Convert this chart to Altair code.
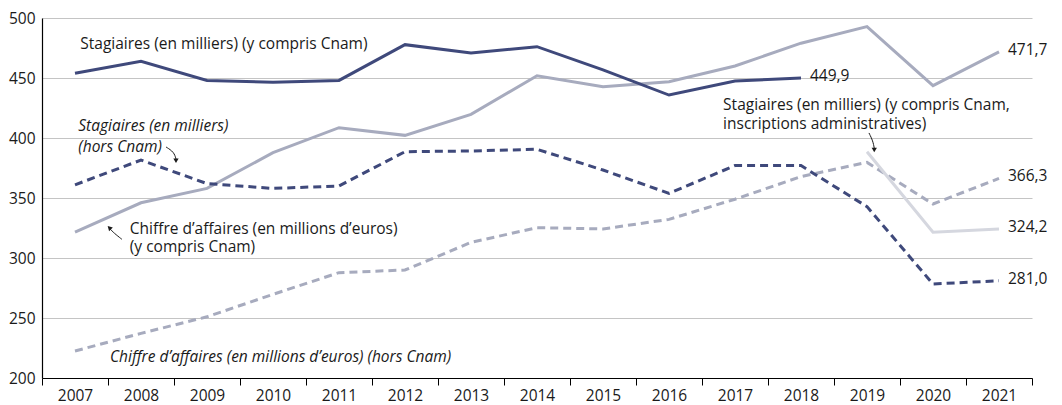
import altair as alt
import pandas as pd

FONT = "Open Sans"
FS = 15.5
NAVY = "#3f497b"
GRAY = "#a7abbe"
LIGHT = "#d5d7df"
INK = "#1a1a1a"

years = list(range(2007, 2022))

# Stagiaires (en milliers) (y compris Cnam) 2007-2018
stag_cnam_years = list(range(2007, 2019))
stag_cnam = [454.0, 464.0, 448.0, 446.5, 448.0, 477.8, 470.8, 476.1, 456.7, 435.8, 447.5, 449.9]
# Chiffre d'affaires (y compris Cnam) 2007-2021
ca_cnam = [321.5, 346.0, 358.0, 387.8, 408.6, 402.2, 419.7, 451.9, 442.8, 446.9, 460.0, 479.0, 492.8, 443.6, 471.7]
# Stagiaires (hors Cnam) 2007-2021
stag_hors = [361.0, 381.6, 362.0, 358.0, 360.0, 388.6, 389.2, 390.6, 373.3, 353.9, 377.0, 377.0, 342.8, 278.3, 281.0]
# Chiffre d'affaires (hors Cnam) 2007-2021
ca_hors = [222.5, 237.2, 251.0, 269.7, 287.8, 290.0, 313.0, 325.3, 324.2, 332.2, 349.0, 367.8, 379.7, 345.0, 366.3]
# Stagiaires (y compris Cnam, inscriptions administratives) 2019-2021
stag_admin_years = [2019, 2020, 2021]
stag_admin = [388.6, 321.4, 324.2]

def frame(name, yrs, vals):
    return pd.DataFrame({"series": name, "year": yrs, "value": vals})

df = pd.concat([
    frame("stag_cnam", stag_cnam_years, stag_cnam),
    frame("ca_cnam", years, ca_cnam),
    frame("stag_hors", years, stag_hors),
    frame("ca_hors", years, ca_hors),
    frame("stag_admin", stag_admin_years, stag_admin),
], ignore_index=True)

xq = alt.X("year:Q", scale=alt.Scale(domain=[2006.5, 2021.5], nice=False, zero=False), axis=None)
yq = alt.Y(
    "value:Q",
    scale=alt.Scale(domain=[200, 500], nice=False, zero=False),
    axis=alt.Axis(
        values=[200, 250, 300, 350, 400, 450, 500], grid=True, gridColor="#c4c4c4", gridWidth=1,
        domainColor="#000", domainWidth=1.2, ticks=False, labelPadding=7, labelFontSize=FS,
        labelFont=FONT, labelColor=INK, title=None,
    ),
)

def line(name, color, dash=None):
    kw = dict(color=color, strokeWidth=3)
    if dash:
        kw["strokeDash"] = dash
    return alt.Chart(df).transform_filter(alt.datum.series == name).mark_line(**kw).encode(x=xq, y=yq)

lines = [
    line("ca_hors", GRAY, [8, 5]),
    line("ca_cnam", GRAY),
    line("stag_admin", LIGHT),
    line("stag_hors", NAVY, [8, 5]),
    line("stag_cnam", NAVY),
]

# Annotations (multi-line texts use "\n"; y is the first line)
ann_normal = pd.DataFrame({
    "text": ["Stagiaires (en milliers) (y compris Cnam)",
             "Chiffre d’affaires (en millions d’euros)\n(y compris Cnam)",
             "Stagiaires (en milliers) (y compris Cnam,\ninscriptions administratives)"],
    "year": [2007.08, 2007.83, 2016.82],
    "value": [478.3, 324.2, 427.1],
})
ann_italic = pd.DataFrame({
    "text": ["Stagiaires (en milliers)\n(hors Cnam)",
             "Chiffre d’affaires (en millions d’euros) (hors Cnam)"],
    "year": [2007.05, 2007.53],
    "value": [409.6, 217.1],
})
end_labels = pd.DataFrame({
    "text": ["449,9", "471,7", "366,3", "324,2", "281,0"],
    "year": [2018, 2021, 2021, 2021, 2021],
    "value": [449.9, 471.7, 366.3, 324.2, 281.0],
})

txt_normal = alt.Chart(ann_normal).mark_text(
    align="left", baseline="middle", font=FONT, fontSize=FS, color=INK, lineBreak="\n", lineHeight=18.5
).encode(x=xq, y=yq, text="text:N")
txt_italic = alt.Chart(ann_italic).mark_text(
    align="left", baseline="middle", font=FONT, fontSize=FS, fontStyle="italic", color=INK,
    lineBreak="\n", lineHeight=20.5
).encode(x=xq, y=yq, text="text:N")
txt_end = alt.Chart(end_labels).mark_text(
    align="left", baseline="middle", font=FONT, fontSize=FS, color=INK, dx=9, dy=-2
).encode(x=xq, y=yq, text="text:N")

# Arrows (curves + heads)
arrow_pts = pd.DataFrame({
    "arrow": ["a1", "a1", "a1", "a2", "a2", "a2", "a3", "a3", "a3"],
    "order": [0, 1, 2, 0, 1, 2, 0, 1, 2],
    "year": [2008.38, 2008.50, 2008.53, 2007.71, 2007.59, 2007.53, 2019.03, 2019.09, 2019.11],
    "value": [392.5, 388.3, 382.5, 315.6, 320.8, 324.3, 404.2, 397.5, 391.5],
})
arrow_lines = alt.Chart(arrow_pts).mark_line(color=INK, strokeWidth=1, interpolate="basis").encode(
    x=xq, y=yq, detail="arrow:N", order="order:Q"
)
heads = pd.DataFrame({
    "year": [2008.53, 2007.52, 2019.11],
    "value": [381.0, 325.3, 390.0],
    "shape": ["triangle-down", "triangle-up", "triangle-down"],
    "angle": [0, 315, 0],
})
arrow_heads = alt.Chart(heads).mark_point(filled=True, color=INK, size=28, opacity=1).encode(
    x=xq, y=yq,
    shape=alt.Shape("shape:N", scale=None),
    angle=alt.Angle("angle:Q", scale=None),
)

# Band axis for the years (ticks at band edges, labels centered)
axis_df = pd.DataFrame({"yr": [str(y) for y in years]})
x_axis_layer = alt.Chart(axis_df).mark_tick(opacity=0).encode(
    x=alt.X(
        "yr:O",
        scale=alt.Scale(type="band", paddingInner=0, paddingOuter=0),
        axis=alt.Axis(
            orient="bottom", tickBand="extent", labelAngle=0, tickSize=7, tickColor="#000",
            domainColor="#000", domainWidth=1.2, labelFontSize=FS, labelFont=FONT,
            labelColor=INK, labelPadding=3, title=None, grid=False,
        ),
    )
)

chart = alt.layer(
    *lines, txt_normal, txt_italic, txt_end, arrow_lines, arrow_heads, x_axis_layer
).resolve_scale(x="independent").properties(
    width=990, height=360, padding={"left": 0, "top": 3, "right": 5, "bottom": 5}
).configure_view(stroke=None)

chart.save("out.html", embed_options={"renderer": "svg", "actions": False})
